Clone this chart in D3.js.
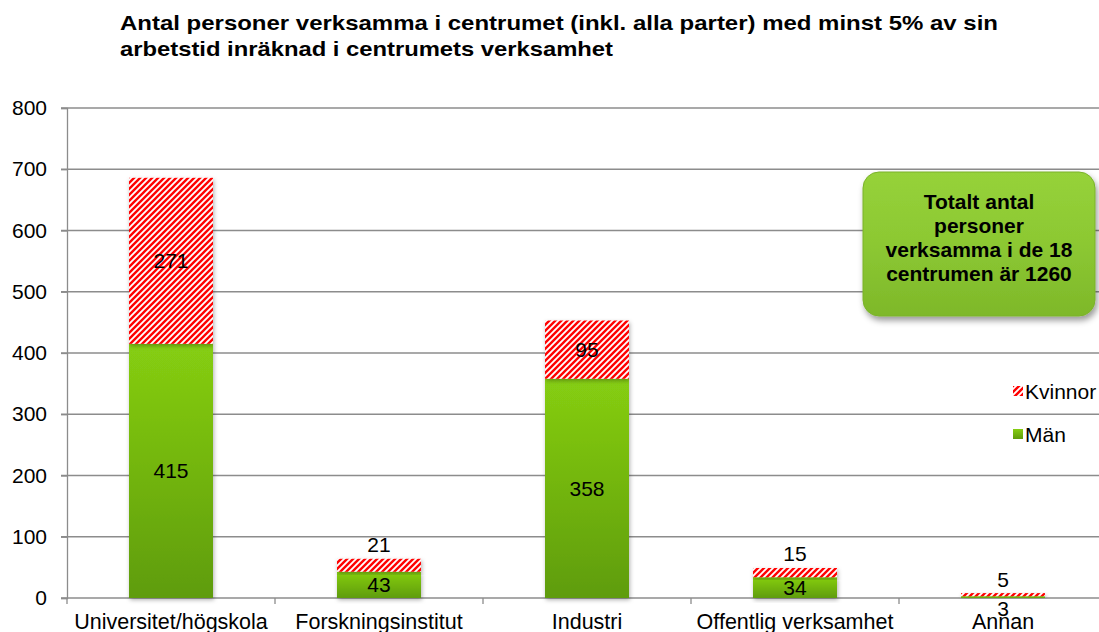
<!DOCTYPE html>
<html>
<head>
<meta charset="utf-8">
<script src="https://cdn.jsdelivr.net/npm/d3@7/dist/d3.min.js"></script>
<style>
  body { margin: 0; background: #fff; }
  svg { font-family: "Liberation Sans", Arial, sans-serif; }
</style>
</head>
<body>
<div id="chart"></div>
<script>
// data
var categories = ["Universitet/högskola", "Forskningsinstitut", "Industri", "Offentlig verksamhet", "Annan"];
var man = [415, 43, 358, 34, 3];
var kvinnor = [271, 21, 95, 15, 5];
var yTicks = [0, 100, 200, 300, 400, 500, 600, 700, 800];
var seriesNames = ["Kvinnor", "Män"];
var titleLines = ["Antal personer verksamma i centrumet (inkl. alla parter) med minst 5% av sin",
                  "arbetstid inräknad i centrumets verksamhet"];
var boxLines = ["Totalt antal", "personer", "verksamma i de 18", "centrumen är 1260"];

var width = 1099, height = 632;
var margin = {top: 108, left: 67, bottom: 34};
var plotRight = 1107;
var fs = 21;

var svg = d3.select('#chart').append('svg')
    .attr('width', width)
    .attr('height', height);

var defs = svg.append('defs');

var hatch = defs.append('pattern')
    .attr('id', 'hatch')
    .attr('patternUnits', 'userSpaceOnUse')
    .attr('width', 6)
    .attr('height', 6);
hatch.append('rect').attr('width', 6).attr('height', 6).attr('fill', '#fff');
hatch.append('path')
    .attr('d', 'M-1.5,1.5 L1.5,-1.5 M0,6 L6,0 M4.5,7.5 L7.5,4.5')
    .attr('stroke', '#ff0000')
    .attr('stroke-width', 2.4);

var grad = defs.append('linearGradient')
    .attr('id', 'greenGrad')
    .attr('x1', 0).attr('y1', 0).attr('x2', 0).attr('y2', 1);
grad.append('stop').attr('offset', '0%').attr('stop-color', '#86ce12');
grad.append('stop').attr('offset', '100%').attr('stop-color', '#5f9c0b');

var boxGrad = defs.append('linearGradient')
    .attr('id', 'boxGrad')
    .attr('x1', 0).attr('y1', 0).attr('x2', 0).attr('y2', 1);
boxGrad.append('stop').attr('offset', '0%').attr('stop-color', '#96d23a');
boxGrad.append('stop').attr('offset', '50%').attr('stop-color', '#8cc832');
boxGrad.append('stop').attr('offset', '100%').attr('stop-color', '#7eb82a');

var shadow = defs.append('filter').attr('id', 'shadow')
    .attr('x', '-20%').attr('y', '-20%').attr('width', '140%').attr('height', '140%');
shadow.append('feDropShadow')
    .attr('dx', 1).attr('dy', 2).attr('stdDeviation', 2)
    .attr('flood-color', '#000').attr('flood-opacity', 0.3);

var boxShadow = defs.append('filter').attr('id', 'boxShadow')
    .attr('x', '-20%').attr('y', '-20%').attr('width', '140%').attr('height', '150%');
boxShadow.append('feDropShadow')
    .attr('dx', 2).attr('dy', 4).attr('stdDeviation', 3)
    .attr('flood-color', '#000').attr('flood-opacity', 0.4);

var x = d3.scaleBand().domain(categories).range([margin.left, plotRight]).paddingInner(0).paddingOuter(0);
var y = d3.scaleLinear().domain([0, 800]).range([height - margin.bottom, margin.top]);
var barW = 84;

// title
svg.append('g').selectAll('text')
    .data(titleLines)
    .enter().append('text')
    .attr('x', 120)
    .attr('y', function(d, i) { return 30 + i * 26; })
    .attr('font-size', 21)
    .attr('font-weight', 'bold')
    .attr('fill', '#000')
    .attr('textLength', function(d, i) { return i === 0 ? 878 : 493; })
    .attr('lengthAdjust', 'spacingAndGlyphs')
    .text(function(d) { return d; });

// grid
svg.append('g').selectAll('line')
    .data(yTicks)
    .enter().append('line')
    .attr('x1', margin.left - 6)
    .attr('x2', width)
    .attr('y1', function(d) { return y(d); })
    .attr('y2', function(d) { return y(d); })
    .attr('stroke', '#8c8c8c')
    .attr('stroke-width', 1.3);

// y axis
var yAxis = d3.axisLeft(y).tickValues(yTicks).tickSize(6).tickPadding(14);
var gy = svg.append('g')
    .attr('transform', 'translate(' + margin.left + ',0)')
    .call(yAxis);
gy.select('.domain').attr('stroke', '#8c8c8c').attr('stroke-width', 1.3);
gy.selectAll('.tick line').attr('stroke', '#8c8c8c').attr('stroke-width', 1.3);
gy.selectAll('.tick text').attr('font-size', fs).attr('fill', '#000')
    .attr('font-family', '"Liberation Sans", Arial, sans-serif');

// x axis
var xAxis = d3.axisBottom(x).tickSize(0).tickPadding(16);
var gx = svg.append('g')
    .attr('transform', 'translate(0,' + y(0) + ')')
    .call(xAxis);
gx.select('.domain').remove();
gx.selectAll('.tick text').attr('font-size', 21.5).attr('fill', '#000')
    .attr('font-family', '"Liberation Sans", Arial, sans-serif');
// category separators
gx.selectAll('.sep')
    .data(categories)
    .enter().append('line')
    .attr('class', 'sep')
    .attr('x1', function(d) { return x(d); })
    .attr('x2', function(d) { return x(d); })
    .attr('y1', 0).attr('y2', 6)
    .attr('stroke', '#8c8c8c').attr('stroke-width', 1.3);

// bars
var bars = svg.append('g');
bars.selectAll('.man')
    .data(categories)
    .enter().append('rect')
    .attr('class', 'man')
    .attr('x', function(d) { return x(d) + x.bandwidth() / 2 - barW / 2; })
    .attr('y', function(d, i) { return y(man[i]); })
    .attr('width', barW)
    .attr('height', function(d, i) { return y(0) - y(man[i]); })
    .attr('fill', 'url(#greenGrad)')
    .attr('filter', 'url(#shadow)');
bars.selectAll('.kv')
    .data(categories)
    .enter().append('rect')
    .attr('class', 'kv')
    .attr('x', function(d) { return x(d) + x.bandwidth() / 2 - barW / 2; })
    .attr('y', function(d, i) { return y(man[i] + kvinnor[i]); })
    .attr('width', barW)
    .attr('height', function(d, i) { return y(man[i]) - y(man[i] + kvinnor[i]); })
    .attr('fill', 'url(#hatch)')
    .attr('filter', 'url(#shadow)');

// labels
var lab = svg.append('g')
    .attr('font-size', fs)
    .attr('text-anchor', 'middle')
    .attr('fill', '#000');
lab.selectAll('.lm')
    .data(categories)
    .enter().append('text')
    .attr('x', function(d) { return x(d) + x.bandwidth() / 2; })
    .attr('y', function(d, i) {
        var cy = (y(0) + y(man[i])) / 2;
        return (man[i] < 10 ? y(0) + 10 : cy) + 7.5;
    })
    .text(function(d, i) { return man[i]; });
lab.selectAll('.lk')
    .data(categories)
    .enter().append('text')
    .attr('x', function(d) { return x(d) + x.bandwidth() / 2; })
    .attr('y', function(d, i) {
        var top = y(man[i] + kvinnor[i]);
        var cy = (y(man[i]) + top) / 2;
        return (kvinnor[i] < 40 ? top - 14 : cy) + 7.5;
    })
    .text(function(d, i) { return kvinnor[i]; });

// text box
var box = svg.append('g').attr('transform', 'translate(863,172)');
box.append('rect')
    .attr('width', 232).attr('height', 144)
    .attr('rx', 16).attr('ry', 16)
    .attr('fill', 'url(#boxGrad)')
    .attr('stroke', '#7ab22a').attr('stroke-width', 1)
    .attr('filter', 'url(#boxShadow)');
box.selectAll('text')
    .data(boxLines)
    .enter().append('text')
    .attr('x', 116)
    .attr('y', function(d, i) { return 37 + i * 24; })
    .attr('text-anchor', 'middle')
    .attr('font-size', 21)
    .attr('font-weight', 'bold')
    .attr('fill', '#000')
    .text(function(d) { return d; });

// legend
var legend = svg.append('g').attr('transform', 'translate(1013,386)');
var li = legend.selectAll('g')
    .data(seriesNames)
    .enter().append('g')
    .attr('transform', function(d, i) { return 'translate(0,' + i * 43 + ')'; });
li.append('rect')
    .attr('width', 10).attr('height', 10)
    .attr('fill', function(d, i) { return i === 0 ? 'url(#hatch)' : 'url(#greenGrad)'; });
li.append('text')
    .attr('x', 12).attr('y', 12.5)
    .attr('font-size', fs)
    .attr('fill', '#000')
    .text(function(d) { return d; });
</script>
</body>
</html>
